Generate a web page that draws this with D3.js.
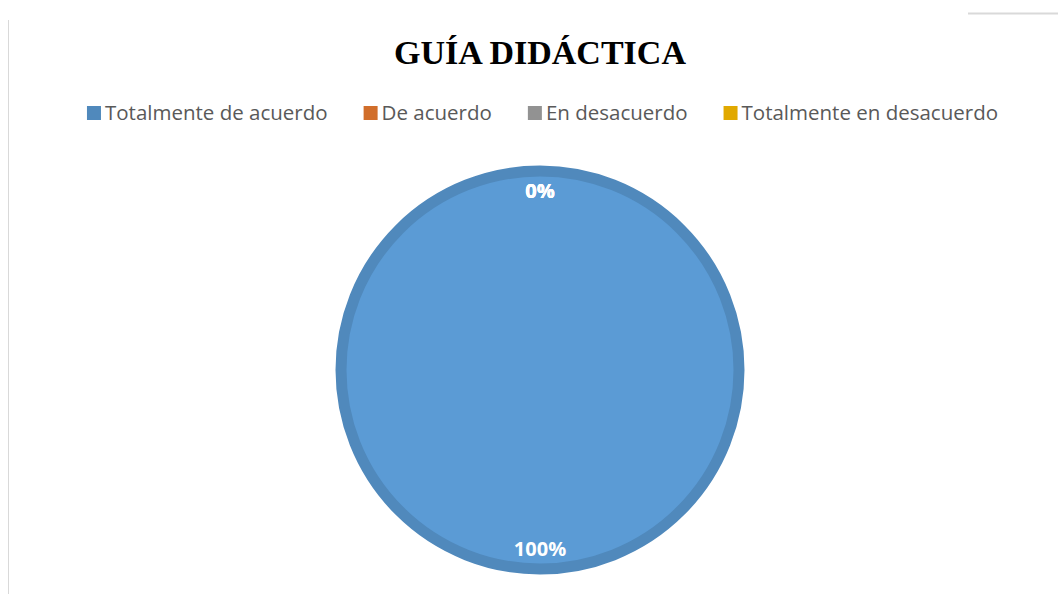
<!DOCTYPE html>
<html>
<head>
<meta charset="utf-8">
<script src="https://cdn.jsdelivr.net/npm/d3@7"></script>
<style>
  body { margin: 0; background: #fff; }
  svg { display: block; }
</style>
</head>
<body>
<svg id="chart" width="1058" height="594"></svg>
<script>
// chart data
var categories = ["Totalmente de acuerdo", "De acuerdo", "En desacuerdo", "Totalmente en desacuerdo"];
var values = [100, 0, 0, 0];
var colors = ["#5b9bd5", "#ed7d31", "#a5a5a5", "#ffc000"];
var title = "GUÍA DIDÁCTICA";

var svg = d3.select("#chart");

// frame bits from the page the chart was cut from
svg.append("line").attr("x1", 8.5).attr("x2", 8.5).attr("y1", 20).attr("y2", 594)
  .attr("stroke", "#d9d9d9").attr("stroke-width", 1);
svg.append("line").attr("x1", 968).attr("x2", 1058).attr("y1", 13.5).attr("y2", 13.5)
  .attr("stroke", "#d9d9d9").attr("stroke-width", 2);

// title
svg.append("text")
  .attr("x", 540).attr("y", 64)
  .attr("text-anchor", "middle")
  .style("font-family", "'Liberation Serif', 'Times New Roman', serif")
  .style("font-weight", "bold")
  .style("font-size", "34px")
  .attr("fill", "#000")
  .text(title);

// legend (swatches show the shaded edge colour)
var legend = svg.append("g").attr("class", "legend");
var lx = 0, gap = 36;
categories.forEach(function (c, i) {
  var g = legend.append("g").attr("transform", "translate(" + lx + ",0)");
  g.append("rect").attr("x", 0).attr("y", -7).attr("width", 14).attr("height", 14)
    .attr("fill", d3.color(colors[i]).darker(0.35));
  var t = g.append("text")
    .attr("x", 18).attr("y", 7)
    .style("font-family", "'Open Sans', sans-serif")
    .style("font-size", "20.5px")
    .attr("fill", "#595959")
    .text(c);
  lx += 18 + t.node().getComputedTextLength() + gap;
});
var legendWidth = lx - gap;
legend.attr("transform", "translate(" + (542.5 - legendWidth / 2) + ",113)");

// pie
var cx = 540, cy = 370, r = 205;
var pie = d3.pie().sort(null).value(function (d) { return d; });
var arcs = pie(values);
var arc = d3.arc().innerRadius(0).outerRadius(r - 6);
var labelArc = d3.arc().innerRadius(179).outerRadius(179);

var pg = svg.append("g").attr("transform", "translate(" + cx + "," + cy + ")");

pg.selectAll("path.slice")
  .data(arcs.filter(function (d) { return d.data > 0; }))
  .enter().append("path")
  .attr("class", "slice")
  .attr("d", arc)
  .attr("fill", function (d) { return colors[d.index]; })
  .attr("stroke", function (d) { return d3.color(colors[d.index]).darker(0.35); })
  .attr("stroke-width", 11)
  .attr("stroke-linejoin", "round");

pg.selectAll("text.lbl")
  .data(arcs)
  .enter().append("text")
  .attr("class", "lbl")
  .attr("transform", function (d) { return "translate(" + labelArc.centroid(d) + ")"; })
  .attr("text-anchor", "middle")
  .attr("dy", "0.35em")
  .style("font-family", "'Open Sans', sans-serif")
  .style("font-weight", "bold")
  .style("font-size", "20px")
  .attr("fill", "#fff")
  .text(function (d) { return d3.format(".0%")(d.data / d3.sum(values)); });
</script>
</body>
</html>
